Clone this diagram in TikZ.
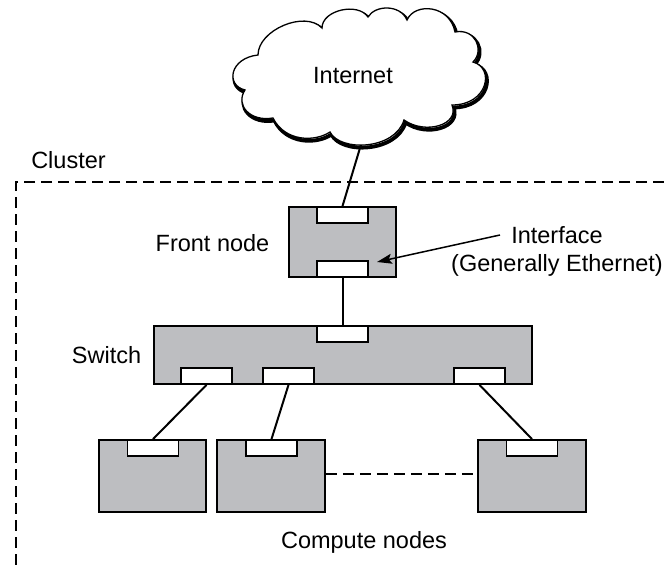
\documentclass[tikz,border=0pt]{standalone}
\usepackage{fontspec}
\setmainfont{Liberation Sans}
\usetikzlibrary{arrows.meta}
\definecolor{boxgray}{RGB}{189,190,193}
% outline of the cloud, in pixel-like units (y grows downwards)
\def\cloudoutline{(258,55)
  .. controls (258,30) and (305,10) .. (322,28)
  .. controls (322,10) and (358,2) .. (368,17)
  .. controls (375,5) and (400,4) .. (407,20)
  .. controls (415,2) and (450,5) .. (455,32)
  .. controls (475,28) and (485,50) .. (473,62)
  .. controls (495,68) and (488,105) .. (452,105)
  .. controls (460,125) and (425,135) .. (404,120)
  .. controls (395,150) and (340,152) .. (330,132)
  .. controls (315,142) and (285,142) .. (273,118)
  .. controls (250,122) and (235,105) .. (245,90)
  .. controls (225,85) and (230,58) .. (258,55) -- cycle}
\begin{document}
\begin{tikzpicture}[x=1pt,y=-1pt,
  every node/.style={font=\fontsize{23.5}{28}\selectfont},
  unit/.style={draw, fill=boxgray, line width=1.8pt, inner sep=0pt},
  port/.style={draw, fill=white, line width=1.8pt, inner sep=0pt,
               minimum width=51pt, minimum height=16pt},
  wire/.style={draw, line width=2pt},
  caption/.style={inner sep=0pt, anchor=base}]
\useasboundingbox (0,0) rectangle (664,565);

% cluster boundary
\draw[line width=1.8pt, dash pattern=on 11pt off 6pt] (664,182) -- (16,182) -- (16,565);
\node[caption] (clusterlbl) at (68.5,168) {Cluster};

% point under the cloud where the uplink starts (hidden by the cloud fill)
\coordinate (cloudfoot) at (363,138);

% front node
\node[unit, minimum width=107pt, minimum height=70pt] (front) at (342.5,242) {};
\node[port] (ftop) at (342.5,215) {};
\node[port] (fbot) at (342.5,269) {};
\node[caption] (frontlbl) at (212.5,251) {Front node};

% switch
\node[unit, minimum width=378pt, minimum height=58pt] (switch) at (343,355) {};
\node[port] (swtop) at (342.5,334) {};
\node[port] (sp1) at (206.5,376) {};
\node[port] (sp2) at (288.5,376) {};
\node[port] (sp3) at (479.5,376) {};
\node[caption] (switchlbl) at (106.5,363) {Switch};

% compute nodes
\node[unit, minimum width=107pt, minimum height=72pt] (c1) at (152.5,476) {};
\node[unit, minimum width=108pt, minimum height=72pt] (c2) at (271,476) {};
\node[unit, minimum width=108pt, minimum height=72pt] (c3) at (532,476) {};
\node[port] (cp1) at (153,448) {};
\node[port] (cp2) at (271.5,448) {};
\node[port] (cp3) at (532,448) {};
\node[caption] (computelbl) at (364,548) {Compute nodes};

% connectors
\path[wire] (cloudfoot) -- (ftop.north);
\path[wire] (fbot.south) -- (swtop.north);
\path[wire] (sp1.south) -- (cp1.north);
\path[wire] (sp2.south) -- (cp2.north);
\path[wire] (sp3.south) -- (cp3.north);
\path[wire, dash pattern=on 11pt off 6pt] ([yshift=2pt]c2.east) -- ([yshift=2pt]c3.west);

% interface callout
\node[inner sep=0pt, anchor=north, align=center] (iflbl) at (557,226)
  {Interface\\(Generally Ethernet)};
\coordinate (ifstart) at (500,235);
\coordinate (iftip) at (377,262);
\draw[line width=1.5pt, -{Stealth[length=15pt, width=10pt, inset=3pt]}] (ifstart) -- (iftip);

% the Internet cloud with a heavy lower-right edge
\draw[line width=3.8pt, shift={(1.5,2.5)}] \cloudoutline;
\draw[line width=1.3pt, fill=white] \cloudoutline;
\node[caption] (internetlbl) at (353,83) {Internet};
\end{tikzpicture}
\end{document}
